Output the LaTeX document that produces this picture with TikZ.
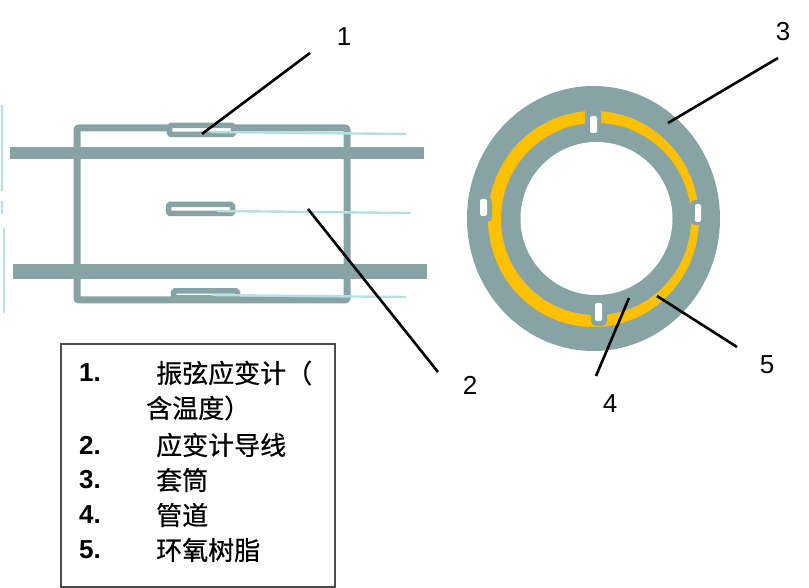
\documentclass[tikz,border=0pt]{standalone}
\usepackage{fontspec}
\setmainfont{Liberation Sans}
\newfontfamily\cjk[FakeBold=0.6]{Noto Sans CJK SC}
\usetikzlibrary{positioning}

\definecolor{sleeve}{HTML}{88A3A6}
\definecolor{resin}{HTML}{FFC000}
\definecolor{wire}{HTML}{B7E0E4}

\begin{document}
\begin{tikzpicture}[
    x=1pt, y=-1pt,
    pipe/.style={fill=sleeve, inner sep=0pt, minimum width=414pt},
    gauge/.style={draw=sleeve, line width=5.5pt, fill=white, rounded corners=1.5pt, inner sep=0pt, minimum width=64pt, minimum height=9pt},
    lead/.style={wire, line width=2.4pt},
    leader/.style={black, line width=2.6pt},
    tag/.style={font=\fontsize{26}{30}\selectfont},
    num/.style={anchor=west, inner sep=0pt, font=\fontsize{26}{30}\selectfont\bfseries},
    item/.style={anchor=west, inner sep=0pt, font=\fontsize{26}{30}\selectfont\cjk},
    slot/.style={fill=white, draw=none, rounded corners=2pt, inner sep=0pt},
    patch/.style={fill=sleeve, draw=none, rounded corners=5pt, inner sep=0pt}
]
\useasboundingbox (0,0) rectangle (809,588);

% sleeve and pipes, side view
\draw[sleeve, line width=7pt, rounded corners=2pt] (77,128) rectangle (347,300);
\node[pipe, minimum height=12pt] (pipeA) at (217,153) {};
\node[pipe, minimum height=15pt] (pipeB) at (220,271.5) {};

% gauges and their wires
\node[gauge] (gaugeA) at (201.5,130) {};
\node[gauge] (gaugeB) at (200.5,209) {};
\node[gauge, minimum height=7pt] (gaugeC) at (205.5,294.5) {};
\coordinate (wireA) at (406,134);
\coordinate (wireB) at (411,213);
\coordinate (wireC) at (406,297);
\draw[lead] (211,132) -- (wireA);
\draw[lead] (217,211) -- (wireB);
\draw[lead] (212,295) -- (wireC);

% stray marks at the left edge
\draw[lead] (2,105) -- (2,191);
\draw[lead] (2,201) -- (2,214);
\draw[lead] (4,228) -- (4,313);

% cross section
\fill[sleeve] (593.5,218.5) ellipse (126.5 and 132.5);
\fill[resin] (593.5,219) ellipse (105.5 and 108);
\fill[sleeve] (596,219) ellipse (95 and 96);
\fill[white] (596.5,218.5) ellipse (76 and 76.5);

\node[patch, minimum width=16pt, minimum height=20pt] (patchT) at (593,118) {};
\node[patch, minimum width=12pt, minimum height=25pt] (patchR) at (696,212.5) {};
\node[patch, minimum width=16pt, minimum height=20pt] (patchB) at (599,316) {};
\node[patch, minimum width=14pt, minimum height=25pt] (patchL) at (485,209.5) {};
\node[slot, minimum width=7pt, minimum height=17pt] (slotT) at (593.5,124.5) {};
\node[slot, minimum width=6pt, minimum height=18pt] (slotR) at (698,213) {};
\node[slot, minimum width=7pt, minimum height=18pt] (slotB) at (598.5,312) {};
\node[slot, minimum width=7pt, minimum height=17pt] (slotL) at (483.5,207.5) {};

% call-outs
\node[tag] (tagA) at (344,37) {1};
\node[tag] (tagB) at (470,385) {2};
\node[tag] (tagC) at (783,32) {3};
\node[tag] (tagD) at (610,404) {4};
\node[tag] (tagE) at (767,365) {5};
\coordinate (tipA) at (202,134);
\coordinate (tipB) at (308,209);
\coordinate (tipC) at (668,123);
\coordinate (tipD) at (629,298);
\coordinate (tipE) at (657,296);
\coordinate (endA) at (310,53);
\coordinate (endB) at (438,372);
\coordinate (endC) at (778,58);
\coordinate (endD) at (596,376);
\coordinate (endE) at (737,347);
\draw[leader] (tipA) -- (endA);
\draw[leader] (tipB) -- (endB);
\draw[leader] (tipC) -- (endC);
\draw[leader] (tipD) -- (endD);
\draw[leader] (tipE) -- (endE);

% legend
\node[draw=black!70, line width=1.5pt, anchor=north west, inner sep=0pt, minimum width=274pt, minimum height=243pt] (legend) at (60,343) {};
\node[num] (numA) at (79,373) {1.};
\node[num] (numB) at (79,445) {2.};
\node[num] (numC) at (79,480) {3.};
\node[num] (numD) at (79,515) {4.};
\node[num] (numE) at (79,550) {5.};
\node[item] (itemA) at (156,373) {振弦应变计（};
\node[item] (itemAb) at (146,408) {含温度）};
\node[item] (itemB) at (156,445) {应变计导线};
\node[item] (itemC) at (156,480) {套筒};
\node[item] (itemD) at (156,515) {管道};
\node[item] (itemE) at (156,550) {环氧树脂};
\end{tikzpicture}
\end{document}
